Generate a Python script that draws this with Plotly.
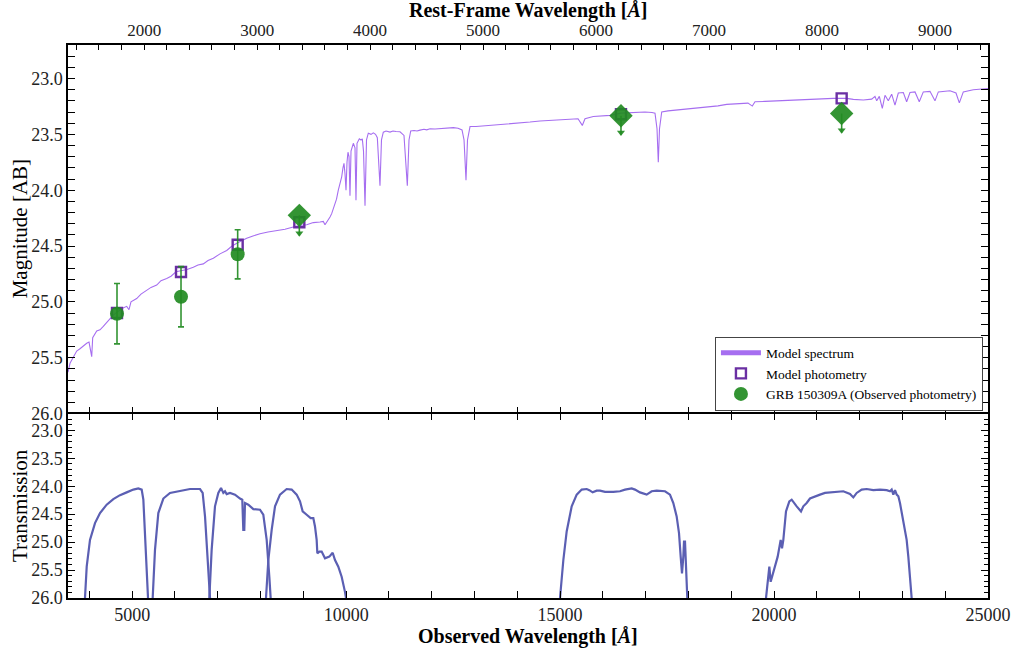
import plotly.graph_objects as go

# ---------------- data ----------------
one_plus_z = 2.64

# model spectrum (observed wavelength [A], AB mag)
spec_wave = [3500, 3547, 3703, 3780, 3937, 3991, 4054, 4077, 4171, 4248, 4325, 4388, 4481, 4551,
             4652, 4762, 4872, 4925, 4972, 5105, 5206, 5339, 5440, 5573, 5673, 5807, 5907, 6024,
             6141, 6281, 6428, 6538, 6662, 6772, 6896, 7052, 7209, 7333, 7466, 7676, 7823, 7987,
             8174, 8377, 8571, 8765, 8922, 9078, 9233, 9389, 9466, 9506, 9541, 9583, 9623, 9662,
             9693, 9740, 9775, 9817, 9856, 9896, 9926, 9950, 9973, 9997, 10020, 10043, 10067,
             10090, 10114, 10168, 10207, 10230, 10254, 10308, 10347, 10378, 10406, 10441, 10476,
             10518, 10581, 10635, 10687, 10729, 10791, 10826, 10869, 10932, 11025, 11095, 11165,
             11259, 11352, 11430, 11469, 11509, 11586, 11656, 11726, 11819, 11883, 11960, 12077,
             12194, 12310, 12427, 12506, 12615, 12708, 12755, 12801, 12836, 12895, 13035, 13206,
             13362, 13596, 13829, 14063, 14297, 14530, 14764, 14998, 15232, 15419, 15519, 15582,
             15776, 15933, 16166, 16423, 16634, 16790, 16984, 17148, 17218, 17265, 17295, 17323,
             17375, 17522, 17725, 17919, 18113, 18270, 18503, 18690, 18893, 19041, 19204, 19391,
             19492, 19555, 19789, 20062, 20256, 20450, 20677, 20918, 21145, 21385, 21698, 21853,
             22086, 22282, 22359, 22399, 22460, 22530, 22593, 22670, 22749, 22826, 22904, 23021,
             23099, 23177, 23294, 23394, 23488, 23644, 23761, 23839, 24112, 24252, 24330, 24423,
             24657, 25000]
spec_mag = [25.63, 25.55, 25.44, 25.42, 25.37, 25.36, 25.49, 25.32, 25.26, 25.25, 25.22, 25.19,
            25.15, 25.12, 25.09, 25.06, 25.04, 25.07, 25.00, 24.97, 24.93, 24.90, 24.87, 24.85,
            24.81, 24.79, 24.77, 24.73, 24.72, 24.71, 24.69, 24.67, 24.66, 24.63, 24.61, 24.57,
            24.54, 24.50, 24.47, 24.43, 24.41, 24.39, 24.375, 24.365, 24.35, 24.33, 24.315, 24.31,
            24.29, 24.285, 24.28, 24.31, 24.29, 24.27, 24.24, 24.21, 24.17, 24.12, 24.08, 24.00,
            23.95, 23.88, 23.80, 23.76, 23.85, 24.00, 23.75, 23.66, 23.70, 24.05, 23.65, 23.58,
            23.62, 24.09, 23.58, 23.54, 23.55, 23.54, 23.65, 24.14, 23.55, 23.49, 23.50, 23.487,
            23.50, 23.53, 23.96, 23.55, 23.48, 23.47, 23.48, 23.47, 23.475, 23.477, 23.51, 23.96,
            23.55, 23.47, 23.465, 23.47, 23.462, 23.455, 23.46, 23.45, 23.452, 23.45, 23.445,
            23.44, 23.44, 23.445, 23.46, 23.55, 23.91, 23.55, 23.43, 23.43, 23.425, 23.42, 23.415,
            23.405, 23.395, 23.39, 23.38, 23.375, 23.37, 23.365, 23.36, 23.42, 23.36, 23.34,
            23.335, 23.33, 23.31, 23.305, 23.30, 23.30, 23.305, 23.31, 23.45, 23.75, 23.45, 23.30,
            23.29, 23.283, 23.275, 23.268, 23.26, 23.253, 23.245, 23.232, 23.228, 23.223, 23.22,
            23.247, 23.208, 23.205, 23.20, 23.197, 23.193, 23.19, 23.187, 23.182, 23.178, 23.178,
            23.187, 23.193, 23.185, 23.16, 23.20, 23.16, 23.268, 23.15, 23.20, 23.14, 23.238,
            23.13, 23.125, 23.208, 23.125, 23.12, 23.208, 23.12, 23.115, 23.20, 23.12, 23.11,
            23.13, 23.218, 23.12, 23.10, 23.09]

# photometry (observed wavelength [A])
phot_wave = [4645, 6141, 7465, 8906, 16423, 21580]
model_phot = [25.10, 24.733, 24.488, 24.287, 23.32, 23.178]

det_wave = [4645, 6141, 7465]
det_mag = [25.106, 24.954, 24.574]
det_err = [0.27, 0.27, 0.22]

ul_wave = [8906, 16423, 21580]
ul_mag = [24.225, 23.334, 23.313]
ul_arrow = [0.18, 0.17, 0.17]

# filter transmission curves (observed wavelength [A], transmission 0..1)
filt_g_w = [3897, 3937, 4014, 4131, 4248, 4404, 4559, 4715, 4871, 5027, 5143, 5222, 5261, 5300, 5339, 5370]
filt_g_t = [0, 0.28, 0.52, 0.67, 0.76, 0.835, 0.885, 0.92, 0.945, 0.97, 0.98, 0.97, 0.88, 0.58, 0.22, 0]
filt_r_w = [5479, 5533, 5611, 5728, 5884, 6117, 6351, 6585, 6647, 6702, 6756, 6803, 6819]
filt_r_t = [0, 0.43, 0.76, 0.89, 0.94, 0.955, 0.975, 0.975, 0.94, 0.73, 0.43, 0.1, 0]
filt_i_w = [6803, 6857, 6935, 7013, 7076, 7130, 7169, 7208, 7286, 7403, 7520, 7573, 7597, 7620,
            7636, 7714, 7831, 7987, 8064, 8143, 8205, 8236]
filt_i_t = [0, 0.43, 0.82, 0.94, 0.985, 0.94, 0.955, 0.93, 0.94, 0.925, 0.89, 0.88, 0.61, 0.61,
            0.85, 0.835, 0.795, 0.79, 0.745, 0.52, 0.19, 0]
filt_z_w = [8127, 8182, 8260, 8338, 8454, 8610, 8727, 8844, 8922, 8984, 9078, 9171, 9233, 9272,
            9311, 9327, 9374, 9428, 9506, 9607, 9685, 9740, 9817, 9895, 9973, 9997]
filt_z_t = [0, 0.34, 0.61, 0.82, 0.925, 0.975, 0.97, 0.925, 0.865, 0.775, 0.745, 0.715, 0.715,
            0.64, 0.52, 0.40, 0.415, 0.415, 0.355, 0.37, 0.405, 0.34, 0.28, 0.19, 0.055, 0]
filt_h_w = [14998, 15076, 15154, 15271, 15388, 15505, 15622, 15683, 15761, 15855, 15933, 16050,
            16244, 16400, 16517, 16673, 16751, 16867, 17023, 17140, 17257, 17452, 17568, 17646,
            17724, 17779, 17818, 17849, 17880, 17896, 17919, 17942, 17973]
filt_h_t = [0, 0.34, 0.595, 0.82, 0.925, 0.97, 0.975, 0.965, 0.945, 0.96, 0.96, 0.95, 0.95, 0.955,
            0.97, 0.98, 0.97, 0.945, 0.925, 0.955, 0.96, 0.955, 0.925, 0.85, 0.73, 0.58, 0.37,
            0.22, 0.37, 0.505, 0.505, 0.22, 0]
filt_k_w = [19812, 19851, 19890, 19921, 19984, 20085, 20155, 20186, 20217, 20279, 20357, 20412,
            20529, 20630, 20684, 20762, 20840, 20957, 21074, 21190, 21307, 21463, 21619, 21775,
            21853, 21931, 22048, 22165, 22320, 22476, 22632, 22710, 22749, 22788, 22827, 22866,
            22905, 22943, 23021, 23099, 23138, 23177, 23216]
filt_k_t = [0, 0.16, 0.28, 0.145, 0.235, 0.37, 0.52, 0.445, 0.52, 0.775, 0.865, 0.88, 0.82, 0.775,
            0.82, 0.85, 0.89, 0.91, 0.925, 0.94, 0.945, 0.955, 0.955, 0.93, 0.90, 0.94, 0.97,
            0.975, 0.965, 0.97, 0.965, 0.955, 0.97, 0.925, 0.965, 0.925, 0.91, 0.85, 0.67, 0.52,
            0.37, 0.16, 0]
filters = [(filt_g_w, filt_g_t), (filt_r_w, filt_r_t), (filt_i_w, filt_i_t),
           (filt_z_w, filt_z_t), (filt_h_w, filt_h_t), (filt_k_w, filt_k_t)]

# transmission is drawn on the magnitude scale of the lower panel
trans_base = 26.0
trans_scale = 2.0

obs_range = [3500, 25000]
mag_range = [26.0, 22.7]

# ---------------- styles ----------------
FONT = "Liberation Serif"
SPEC_C = "#a66ef0"
MODEL_C = "#6a2fa3"
OBS_C = "rgba(34,139,34,0.92)"
FILT_C = "#5b5fb3"

fig = go.Figure()

# model spectrum
fig.add_trace(go.Scatter(x=spec_wave, y=spec_mag, mode="lines", xaxis="x", yaxis="y",
                         line=dict(color=SPEC_C, width=1.1), showlegend=False, hoverinfo="skip"))
# legend proxy for spectrum (thick line)
fig.add_trace(go.Scatter(x=[None], y=[None], mode="lines", xaxis="x", yaxis="y",
                         line=dict(color=SPEC_C, width=5), name="Model spectrum"))
# model photometry
fig.add_trace(go.Scatter(x=phot_wave, y=model_phot, mode="markers", xaxis="x", yaxis="y",
                         marker=dict(symbol="square-open", size=10, color=MODEL_C,
                                     line=dict(width=2.4, color=MODEL_C)),
                         name="Model photometry"))
# observed detections
fig.add_trace(go.Scatter(x=det_wave, y=det_mag, mode="markers", xaxis="x", yaxis="y",
                         marker=dict(symbol="circle", size=14, color=OBS_C),
                         error_y=dict(type="data", array=det_err, visible=True,
                                      color=OBS_C, thickness=1.6, width=3),
                         name="GRB 150309A (Observed photometry)"))
# upper limits: diamond + downward arrow
fig.add_trace(go.Scatter(x=ul_wave, y=ul_mag, mode="markers", xaxis="x", yaxis="y",
                         marker=dict(symbol="diamond", size=18, color=OBS_C),
                         error_y=dict(type="data", symmetric=False, array=ul_arrow,
                                      arrayminus=[0] * len(ul_arrow), visible=True,
                                      color=OBS_C, thickness=1.6, width=0),
                         showlegend=False))
fig.add_trace(go.Scatter(x=ul_wave, y=[m + a - 0.02 for m, a in zip(ul_mag, ul_arrow)],
                         mode="markers", xaxis="x", yaxis="y",
                         marker=dict(symbol="triangle-down", size=7, color=OBS_C),
                         showlegend=False))

# filter curves (lower panel)
for w, t in filters:
    fig.add_trace(go.Scatter(x=w, y=[trans_base - trans_scale * v for v in t], mode="lines",
                             xaxis="x2", yaxis="y2", line=dict(color=FILT_C, width=2.2),
                             showlegend=False, hoverinfo="skip"))

# rest-frame axis carrier
fig.add_trace(go.Scatter(x=[w / one_plus_z for w in phot_wave], y=model_phot, mode="none",
                         xaxis="x3", yaxis="y", showlegend=False, hoverinfo="skip"))

tickfont = dict(family=FONT, size=18, color="#222")
toptickfont = dict(family=FONT, size=17, color="#222")
xtitlefont = dict(family=FONT, size=20, color="black")
ytitlefont = dict(family=FONT, size=21, color="black")

yax_common = dict(range=mag_range, tick0=23.0, dtick=0.5, tickformat=".1f",
                  ticks="inside", ticklen=7, tickwidth=1.3, tickcolor="black",
                  showline=True, linecolor="black", linewidth=1.5, mirror="allticks",
                  showgrid=False, zeroline=False, tickfont=tickfont, automargin=False,
                  minor=dict(dtick=0.1, tick0=23.0, ticks="inside", ticklen=4,
                             tickwidth=1.1, tickcolor="black", showgrid=False))

fig.update_layout(
    width=1014, height=650,
    margin=dict(l=68, r=26, t=45, b=52),
    paper_bgcolor="white", plot_bgcolor="white",
    font=dict(family=FONT, color="black"),
    xaxis=dict(domain=[0, 1], anchor="y", range=obs_range, showticklabels=False,
               tick0=0, dtick=5000, ticks="inside", ticklen=7, tickwidth=1.3, tickcolor="black",
               minor=dict(dtick=1000, tick0=0, ticks="inside", ticklen=7, tickwidth=1.3,
                          tickcolor="black", showgrid=False),
               showline=False, mirror=False, automargin=False,
               showgrid=False, zeroline=False),
    xaxis2=dict(domain=[0, 1], anchor="y2", range=obs_range, tick0=0, dtick=5000,
                tickformat="d", ticks="inside", ticklen=7, tickwidth=1.3, tickcolor="black",
                minor=dict(dtick=1000, tick0=0, ticks="inside", ticklen=7, tickwidth=1.3,
                           tickcolor="black", showgrid=False),
                showline=True, linecolor="black", linewidth=1.5, mirror="allticks",
                showgrid=False, zeroline=False, tickfont=tickfont, automargin=False),
    xaxis3=dict(overlaying="x", side="top", anchor="y",
                range=[obs_range[0] / one_plus_z, obs_range[1] / one_plus_z],
                tick0=0, dtick=1000, tickformat="d", ticks="inside", ticklen=5,
                tickwidth=1.3, tickcolor="black", automargin=False,
                minor=dict(dtick=200, tick0=0, ticks="inside", ticklen=5, tickwidth=1.3,
                           tickcolor="black", showgrid=False),
                showline=True, linecolor="black", linewidth=1.5,
                showgrid=False, zeroline=False, tickfont=toptickfont),
    yaxis=dict(domain=[0.3335, 1], anchor="x", **yax_common),
    yaxis2=dict(domain=[0, 0.3335], anchor="x2", **yax_common),
    legend=dict(x=0.9945, y=0.339, xanchor="right", yanchor="bottom",
                bgcolor="white", bordercolor="#444", borderwidth=1,
                font=dict(family=FONT, size=13.5, color="black"),
                itemwidth=40, tracegroupgap=0),
    annotations=[
        dict(text="<b>Rest-Frame Wavelength [<i>Å</i>]</b>", xref="paper", yref="paper",
             x=0.5, y=1.0615, xanchor="center", yanchor="middle", showarrow=False,
             font=xtitlefont),
        dict(text="<b>Observed Wavelength [<i>Å</i>]</b>", xref="paper", yref="paper",
             x=0.5, y=-0.069, xanchor="center", yanchor="middle", showarrow=False,
             font=xtitlefont),
        dict(text="Magnitude [AB]", xref="paper", yref="paper", textangle=-90,
             x=-0.052, y=0.667, xanchor="center", yanchor="middle", showarrow=False,
             font=ytitlefont),
        dict(text="Transmission", xref="paper", yref="paper", textangle=-90,
             x=-0.052, y=0.1665, xanchor="center", yanchor="middle", showarrow=False,
             font=ytitlefont),
    ],
)

fig.write_html("out.html", config={"displayModeBar": False},
               post_script="document.body.style.margin='0';")
